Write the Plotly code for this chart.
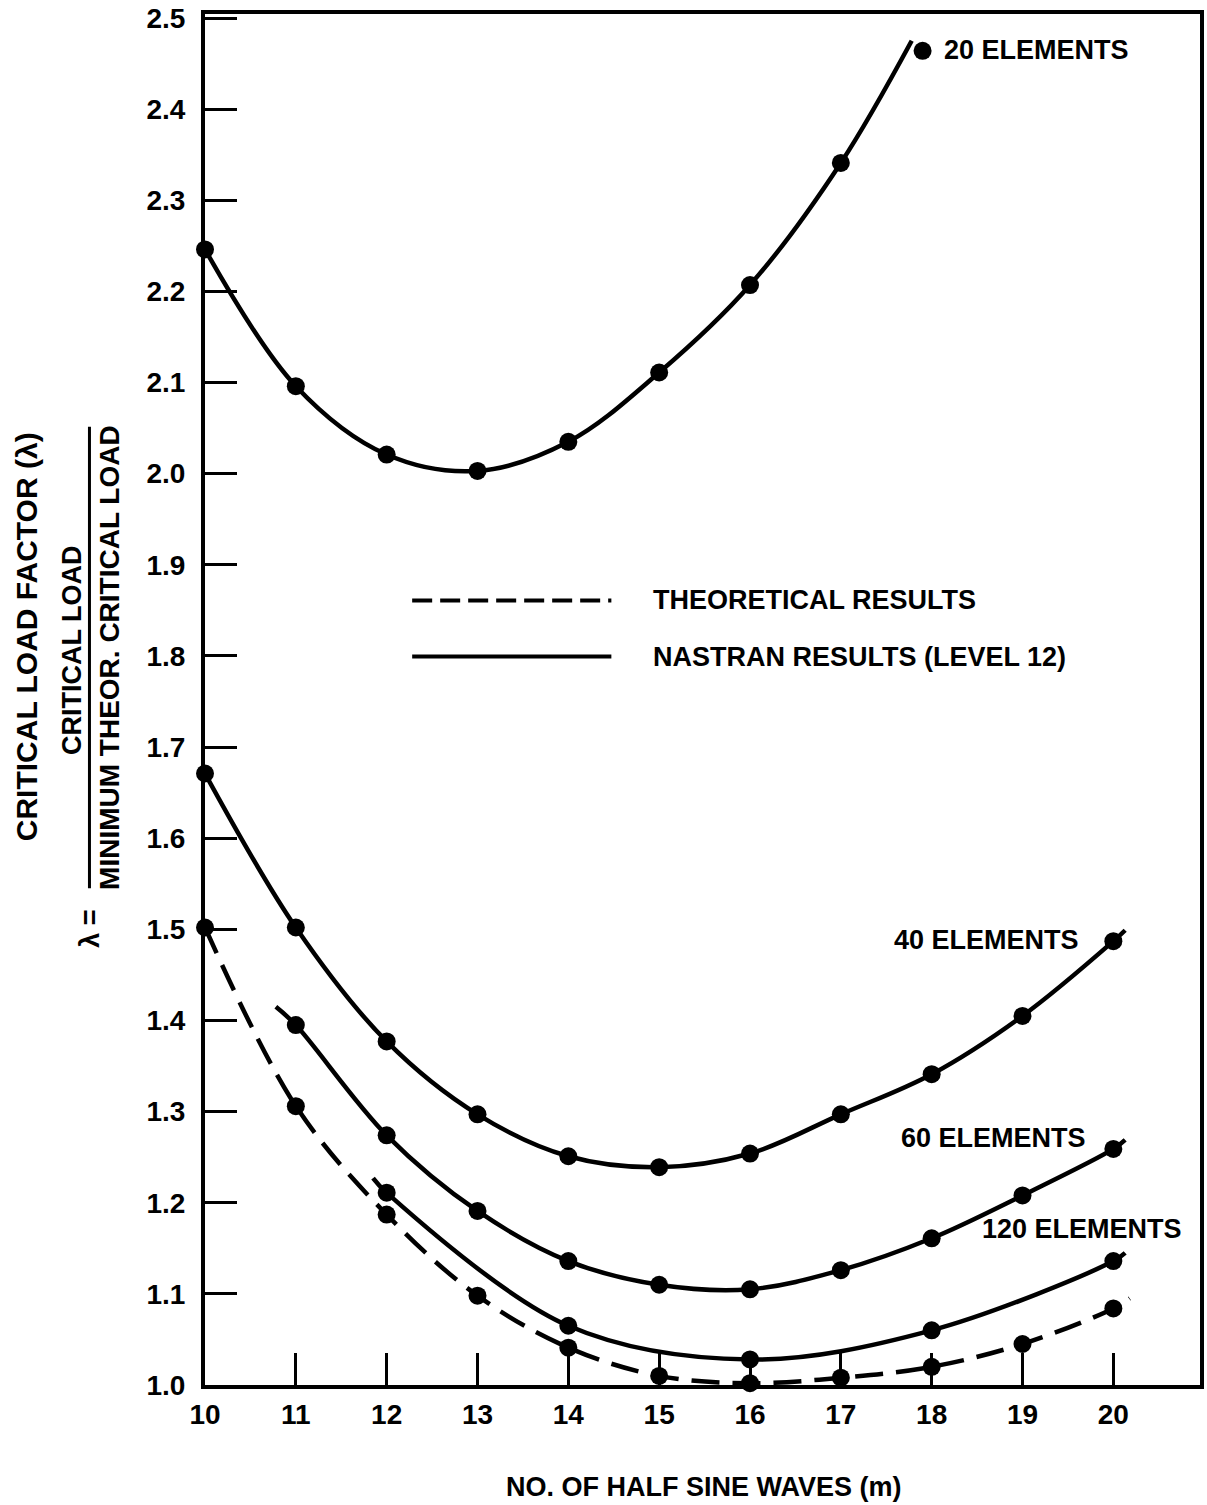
import plotly.graph_objects as go

# ---------------- data ----------------
m_ticks = [10, 11, 12, 13, 14, 15, 16, 17, 18, 19, 20]
y_ticks = [1.0, 1.1, 1.2, 1.3, 1.4, 1.5, 1.6, 1.7, 1.8, 1.9, 2.0, 2.1, 2.2, 2.3, 2.4, 2.5]
y_tick_text = ["1.0", "1.1", "1.2", "1.3", "1.4", "1.5", "1.6", "1.7", "1.8", "1.9",
               "2.0", "2.1", "2.2", "2.3", "2.4", "2.5"]

el20_x = [10, 11, 12, 13, 14, 15, 16, 17]
el20_y = [2.246, 2.096, 2.021, 2.003, 2.035, 2.111, 2.207, 2.341]
el20_end_x, el20_end_y = 17.78, 2.475
el20_label_x, el20_label_y = 17.9, 2.464

el40_x = [10, 11, 12, 13, 14, 15, 16, 17, 18, 19, 20]
el40_y = [1.671, 1.502, 1.377, 1.297, 1.251, 1.239, 1.254, 1.297, 1.341, 1.405, 1.487]
el40_end_x, el40_end_y = 20.13, 1.499

el60_x = [11, 12, 13, 14, 15, 16, 17, 18, 19, 20]
el60_y = [1.395, 1.274, 1.191, 1.136, 1.110, 1.105, 1.126, 1.161, 1.208, 1.259]
el60_start_x, el60_start_y = 10.78, 1.415
el60_end_x, el60_end_y = 20.13, 1.269

el120_x = [12, 14, 16, 18, 20]
el120_y = [1.211, 1.065, 1.028, 1.060, 1.136]
el120_start_x, el120_start_y = 11.85, 1.227
el120_end_x, el120_end_y = 20.13, 1.145

theo_x = [10, 11, 12, 13, 14, 15, 16, 17, 18, 19, 20]
theo_y = [1.502, 1.306, 1.187, 1.098, 1.041, 1.010, 1.002, 1.008, 1.020, 1.045, 1.084]
theo_end_x, theo_end_y = 20.18, 1.095

# ---------------- layout helpers ----------------
WIDTH, HEIGHT = 1207, 1505
PLOT_L, PLOT_R, PLOT_T, PLOT_B = 205, 1204, 13, 1385   # page pixels
L, R = PLOT_L, WIDTH - PLOT_R
T, B = PLOT_T, HEIGHT - PLOT_B
PW = WIDTH - L - R
PH = HEIGHT - T - B


def px(x):
    return (x - PLOT_L) / PW


def py(y):
    return (PLOT_B - y) / PH


FONT = "Liberation Sans"
BLACK = "black"
LW = 4.5
MS = 18

fig = go.Figure()


def add_curve(xs, ys, dash="solid"):
    fig.add_trace(go.Scatter(
        x=xs, y=ys, mode="lines",
        line=dict(color=BLACK, width=LW, shape="spline", smoothing=1.0, dash=dash),
        hoverinfo="skip", showlegend=False, cliponaxis=False))


def add_markers(xs, ys):
    fig.add_trace(go.Scatter(
        x=xs, y=ys, mode="markers",
        marker=dict(color=BLACK, size=MS, line=dict(width=0)),
        hoverinfo="skip", showlegend=False, cliponaxis=False))


# theoretical (dashed)
add_curve(theo_x + [theo_end_x], theo_y + [theo_end_y], dash="28px,13px")
add_markers(theo_x, theo_y)

# 20 elements
add_curve(el20_x + [el20_end_x], el20_y + [el20_end_y])
add_markers(el20_x + [el20_label_x], el20_y + [el20_label_y])

# 40 elements
add_curve(el40_x + [el40_end_x], el40_y + [el40_end_y])
add_markers(el40_x, el40_y)

# 60 elements
add_curve([el60_start_x] + el60_x + [el60_end_x], [el60_start_y] + el60_y + [el60_end_y])
add_markers(el60_x, el60_y)

# 120 elements
add_curve([el120_start_x] + el120_x + [el120_end_x], [el120_start_y] + el120_y + [el120_end_y])
add_markers(el120_x, el120_y)

tick_font = dict(family=FONT, size=28, color=BLACK, weight="bold")

fig.update_layout(
    width=WIDTH, height=HEIGHT,
    margin=dict(l=L, r=R, t=T, b=B, pad=0),
    paper_bgcolor="white", plot_bgcolor="white",
    showlegend=False,
    xaxis=dict(
        range=[10, 10 + PW / 91.2], tickvals=m_ticks, ticktext=[str(v) for v in m_ticks],
        showline=True, linecolor=BLACK, linewidth=4, mirror=True,
        ticks="inside", ticklen=32, tickwidth=3, tickcolor=BLACK,
        showgrid=False, zeroline=False, tickfont=tick_font, ticklabelstandoff=1,
    ),
    yaxis=dict(
        range=[1.0, 1.0 + PH / 912.0], tickvals=y_ticks, ticktext=y_tick_text,
        showline=True, linecolor=BLACK, linewidth=4, mirror=True,
        ticks="inside", ticklen=32, tickwidth=3, tickcolor=BLACK,
        showgrid=False, zeroline=False, tickfont=tick_font, ticklabelstandoff=10,
    ),
)

ann_font = dict(family=FONT, size=27, color=BLACK, weight="bold")

annotations = [
    # series labels
    dict(x=px(945), y=py(49), text="20 ELEMENTS", xanchor="left", yanchor="middle"),
    dict(x=px(1085), y=py(940), text="40 ELEMENTS", xanchor="right", yanchor="middle"),
    dict(x=px(1092), y=py(1138), text="60 ELEMENTS", xanchor="right", yanchor="middle"),
    dict(x=px(1188), y=py(1229), text="120 ELEMENTS", xanchor="right", yanchor="middle"),
    # legend text
    dict(x=px(653), y=py(599), text="THEORETICAL RESULTS", xanchor="left", yanchor="middle"),
    dict(x=px(653), y=py(656), text="NASTRAN RESULTS (LEVEL 12)", xanchor="left", yanchor="middle"),
    # x title
    dict(x=px(706), y=py(1487), text="NO. OF HALF SINE WAVES (m)", xanchor="center", yanchor="middle"),
]
for a in annotations:
    a.update(xref="paper", yref="paper", showarrow=False, font=ann_font)

ytitle = [
    dict(x=px(26), y=py(636), text="CRITICAL LOAD FACTOR (λ)", size=30),
    dict(x=px(71), y=py(650), text="CRITICAL LOAD", size=27),
    dict(x=px(109), y=py(657), text="MINIMUM THEOR. CRITICAL LOAD", size=28),
    dict(x=px(90), y=py(928), text="λ =", size=27),
]
for a in ytitle:
    size = a.pop("size")
    a.update(xref="paper", yref="paper", showarrow=False, textangle=-90,
             xanchor="center", yanchor="middle",
             font=dict(family=FONT, size=size, color=BLACK, weight="bold"))
    annotations.append(a)

fig.update_layout(annotations=annotations)

shapes = [
    # fraction bar
    dict(type="line", x0=px(89), x1=px(89), y0=py(426), y1=py(888),
         line=dict(color=BLACK, width=3)),
    # legend lines
    dict(type="line", x0=px(413), x1=px(613), y0=py(600), y1=py(600),
         line=dict(color=BLACK, width=4, dash="20px,8px")),
    dict(type="line", x0=px(413), x1=px(613), y0=py(656), y1=py(656),
         line=dict(color=BLACK, width=4)),
]
for s in shapes:
    s.update(xref="paper", yref="paper")
fig.update_layout(shapes=shapes)

fig.write_html(
    "out.html",
    config={"displayModeBar": False, "responsive": False},
    post_script="document.body.style.margin='0';document.body.style.padding='0';",
)
